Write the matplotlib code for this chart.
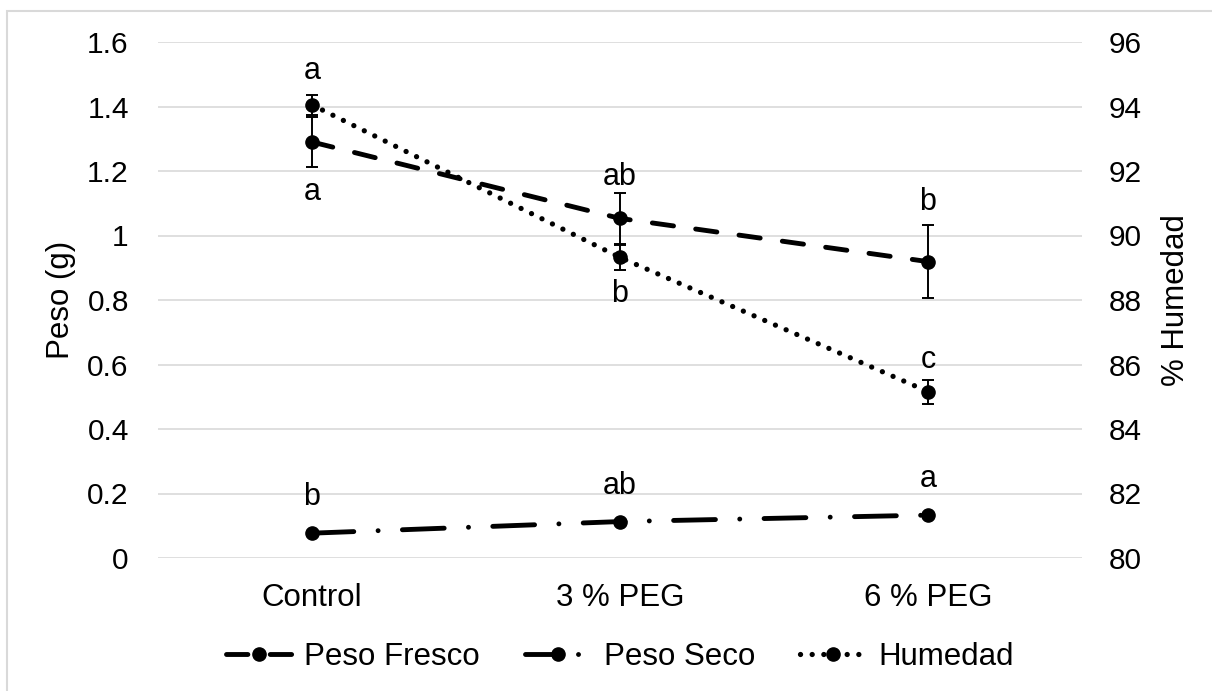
import matplotlib
matplotlib.use("Agg")
import matplotlib.pyplot as plt
from matplotlib.patches import Rectangle
from matplotlib.lines import Line2D

plt.rcParams['font.family'] = ['Liberation Sans', 'DejaVu Sans']

# data
categories = ['Control', '3 % PEG', '6 % PEG']
peso_fresco = [1.29, 1.053, 0.919]
peso_fresco_err = [0.078, 0.078, 0.114]
peso_fresco_lbl = ['a', 'ab', 'b']
peso_seco = [0.077, 0.113, 0.133]
peso_seco_err = [0.004, 0.004, 0.004]
peso_seco_lbl = ['b', 'ab', 'a']
humedad = [94.05, 89.32, 85.16]
humedad_err = [0.30, 0.39, 0.37]
humedad_lbl = ['a', 'b', 'c']

left_ticks = [0, 0.2, 0.4, 0.6, 0.8, 1, 1.2, 1.4, 1.6]
right_ticks = [80, 82, 84, 86, 88, 90, 92, 94, 96]

fs = 21.5
W, H = 1212, 691
fig = plt.figure(figsize=(W / 100, H / 100), dpi=100)
ax = fig.add_axes([158 / W, 1 - 558 / H, 924 / W, 516 / H])
ax2 = ax.twinx()

# outer chart frame
fig.patches.append(Rectangle((7 / W, -0.1), 1.2, 1 - 11 / H + 0.1, transform=fig.transFigure,
                             fill=False, edgecolor='#d9d9d9', linewidth=1.5))

x = list(range(len(categories)))
lw = 3.5
err_kw = dict(ecolor='black', elinewidth=1.4, capsize=4, capthick=1.4)

e1 = ax.errorbar(x, peso_fresco, yerr=peso_fresco_err, color='black', lw=lw,
                 linestyle=(0, (4.4, 4.6)), dash_capstyle='round', marker='o', ms=9.5,
                 **err_kw)
e2 = ax.errorbar(x, peso_seco, yerr=peso_seco_err, color='black', lw=lw,
                 linestyle=(0, (8.6, 5.0, 0.01, 5.0)), dash_capstyle='round', marker='o', ms=9.5,
                 **err_kw)
e3 = ax2.errorbar(x, humedad, yerr=humedad_err, color='black', lw=3.8,
                  linestyle=(0, (0.01, 2.2)), dash_capstyle='round', marker='o', ms=9.5,
                  **err_kw)

# significance letters
pf_off = [-50, 41, 60]
for xi, yi, t, o in zip(x, peso_fresco, peso_fresco_lbl, pf_off):
    ax.annotate(t, (xi, yi), xytext=(0, o), textcoords='offset pixels',
                ha='center', va='center', fontsize=fs + 0.5)
for xi, yi, t in zip(x, peso_seco, peso_seco_lbl):
    ax.annotate(t, (xi, yi), xytext=(0, 36), textcoords='offset pixels',
                ha='center', va='center', fontsize=fs + 0.5)
hu_off = [34, -37, 32]
for xi, yi, t, o in zip(x, humedad, humedad_lbl, hu_off):
    ax2.annotate(t, (xi, yi), xytext=(0, o), textcoords='offset pixels',
                 ha='center', va='center', fontsize=fs + 0.5)

ax.set_xlim(-0.5, 2.5)
ax.set_ylim(0, 1.6)
ax.set_yticks(left_ticks)
ax.set_yticklabels([f'{v:g}' for v in left_ticks])
ax2.set_ylim(80, 96)
ax2.set_yticks(right_ticks)
ax.set_xticks(x)
ax.set_xticklabels(categories, fontsize=fs + 1)

ax.grid(axis='y', color='#d9d9d9', linewidth=1.2)
ax.set_axisbelow(True)
for a in (ax, ax2):
    for s in a.spines.values():
        s.set_visible(False)
    a.tick_params(length=0, labelsize=fs)
ax.tick_params(axis='y', pad=21)
ax.tick_params(axis='x', pad=18, labelsize=fs + 1)
ax2.tick_params(axis='y', pad=19)

ax.set_ylabel('Peso (g)', fontsize=fs + 1, labelpad=8)
ax2.set_ylabel('% Humedad', fontsize=fs + 1, labelpad=14)

# legend handles (the dash-dot one needs a shorter pattern to show its dot)
h_seco = Line2D([], [], color='black', lw=lw, linestyle=(0, (6.3, 4.6, 0.01, 5.0)),
                dash_capstyle='round', marker='o', ms=9.5)
fig.legend([e1.lines[0], h_seco, e3.lines[0]], ['Peso Fresco', 'Peso Seco', 'Humedad'],
           loc='center', bbox_to_anchor=(620 / W, 1 - 657 / H), ncol=3, frameon=False,
           fontsize=fs + 1, handlelength=2.1, handletextpad=0.4, columnspacing=1.45)

fig.savefig('out.png', dpi=100)
